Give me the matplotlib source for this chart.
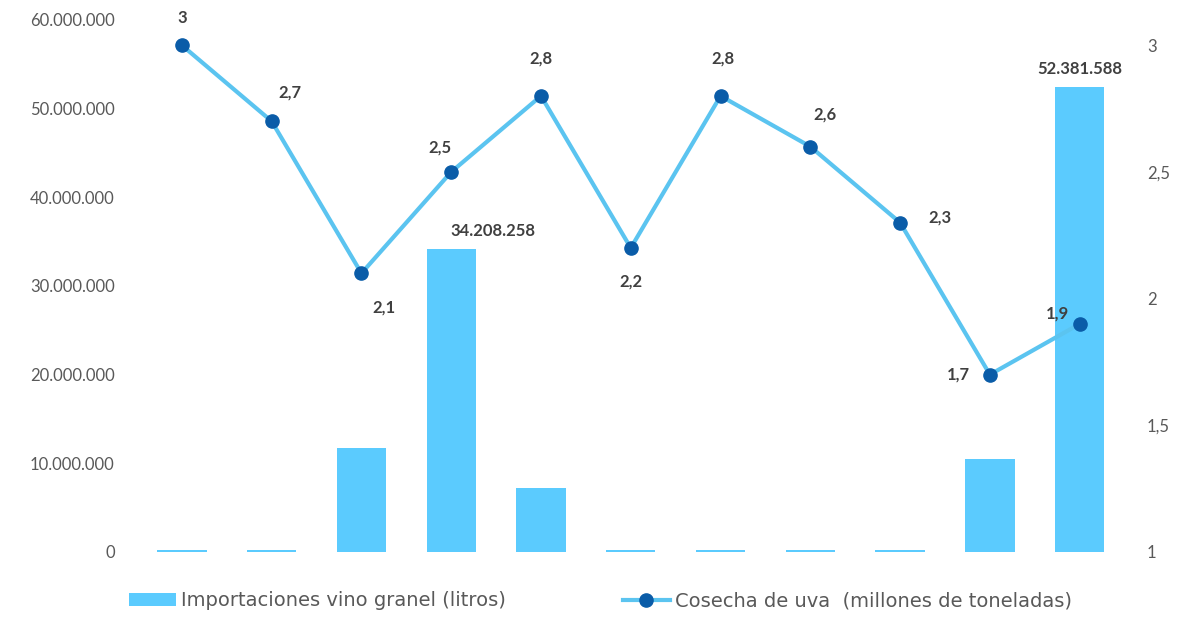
import matplotlib
matplotlib.use("Agg")
import matplotlib.pyplot as plt
import numpy as np

plt.rcParams['font.family'] = ['Lato', 'DejaVu Sans']

categories = list(range(1, 12))
importaciones = [200000, 200000, 11700000, 34208258, 7250000, 200000, 200000, 200000, 200000, 10500000, 52381588]
cosecha = [3.0, 2.7, 2.1, 2.5, 2.8, 2.2, 2.8, 2.6, 2.3, 1.7, 1.9]
bar_labels = {3: "34.208.258", 10: "52.381.588"}
bar_label_dx = {3: 42, 10: 0}
left_ticks = [0, 10000000, 20000000, 30000000, 40000000, 50000000, 60000000]
left_tick_labels = ["0", "10.000.000", "20.000.000", "30.000.000", "40.000.000", "50.000.000", "60.000.000"]
right_ticks = [1, 1.5, 2, 2.5, 3]
right_tick_labels = ["1", "1,5", "2", "2,5", "3"]

# label offsets (pixels) for line data labels
offsets = [(0, 27), (18, 29), (23, -34), (-11, 24), (0, 37), (0, -34), (2, 37), (15, 32), (40, 5), (-31, 0), (-22, 10)]

bar_color = "#5BCBFE"
line_color = "#5BC4F0"
marker_color = "#0A5CA8"
text_color = "#404040"
tick_color = "#595959"

fig = plt.figure(figsize=(11.85, 6.23), dpi=100)
ax = fig.add_axes([0.1156, 0.114, 0.8334, 0.854])
ax2 = ax.twinx()

x = np.arange(len(categories))
bars = ax.bar(x, importaciones, width=0.55, color=bar_color, label="Importaciones vino granel (litros)", zorder=1)
for i, lab in bar_labels.items():
    ax.annotate(lab, (x[i], importaciones[i]), xytext=(bar_label_dx[i], 10), textcoords='offset pixels',
                ha='center', va='bottom', fontsize=12, color=text_color, fontweight='bold')

ax.set_xlim(-0.5, len(categories) - 0.5)
ax.set_ylim(0, 60000000)
ax.set_yticks(left_ticks)
ax.set_yticklabels(left_tick_labels)
ax.set_xticks([])

ax2.plot(x, cosecha, color=line_color, linewidth=3, marker='o', markersize=9.5,
         markerfacecolor=marker_color, markeredgecolor=marker_color,
         label="Cosecha de uva  (millones de toneladas)", zorder=3)
ax2.set_ylim(1, 3.1)
ax2.set_yticks(right_ticks)
ax2.set_yticklabels(right_tick_labels)
for i, v in enumerate(cosecha):
    lab = ("%g" % v).replace(".", ",")
    dx, dy = offsets[i]
    ax2.annotate(lab, (x[i], v), xytext=(dx, dy), textcoords='offset pixels',
                 ha='center', va='center', fontsize=12, color=text_color, fontweight='bold')

for a in (ax, ax2):
    for s in a.spines.values():
        s.set_visible(False)
    a.tick_params(axis='both', length=0, labelsize=12, labelcolor=tick_color)
ax.tick_params(axis='y', pad=16)
ax2.tick_params(axis='y', pad=16)

h1, l1 = ax.get_legend_handles_labels()
h2, l2 = ax2.get_legend_handles_labels()
fig.legend(h1 + h2, l1 + l2, loc='lower left', bbox_to_anchor=(0.094, -0.008), ncol=2,
           frameon=False, prop={'family': 'DejaVu Sans', 'size': 14}, handlelength=2.4,
           columnspacing=6.0, handletextpad=0.3, labelcolor=tick_color)

fig.savefig("out.png", dpi=100)
